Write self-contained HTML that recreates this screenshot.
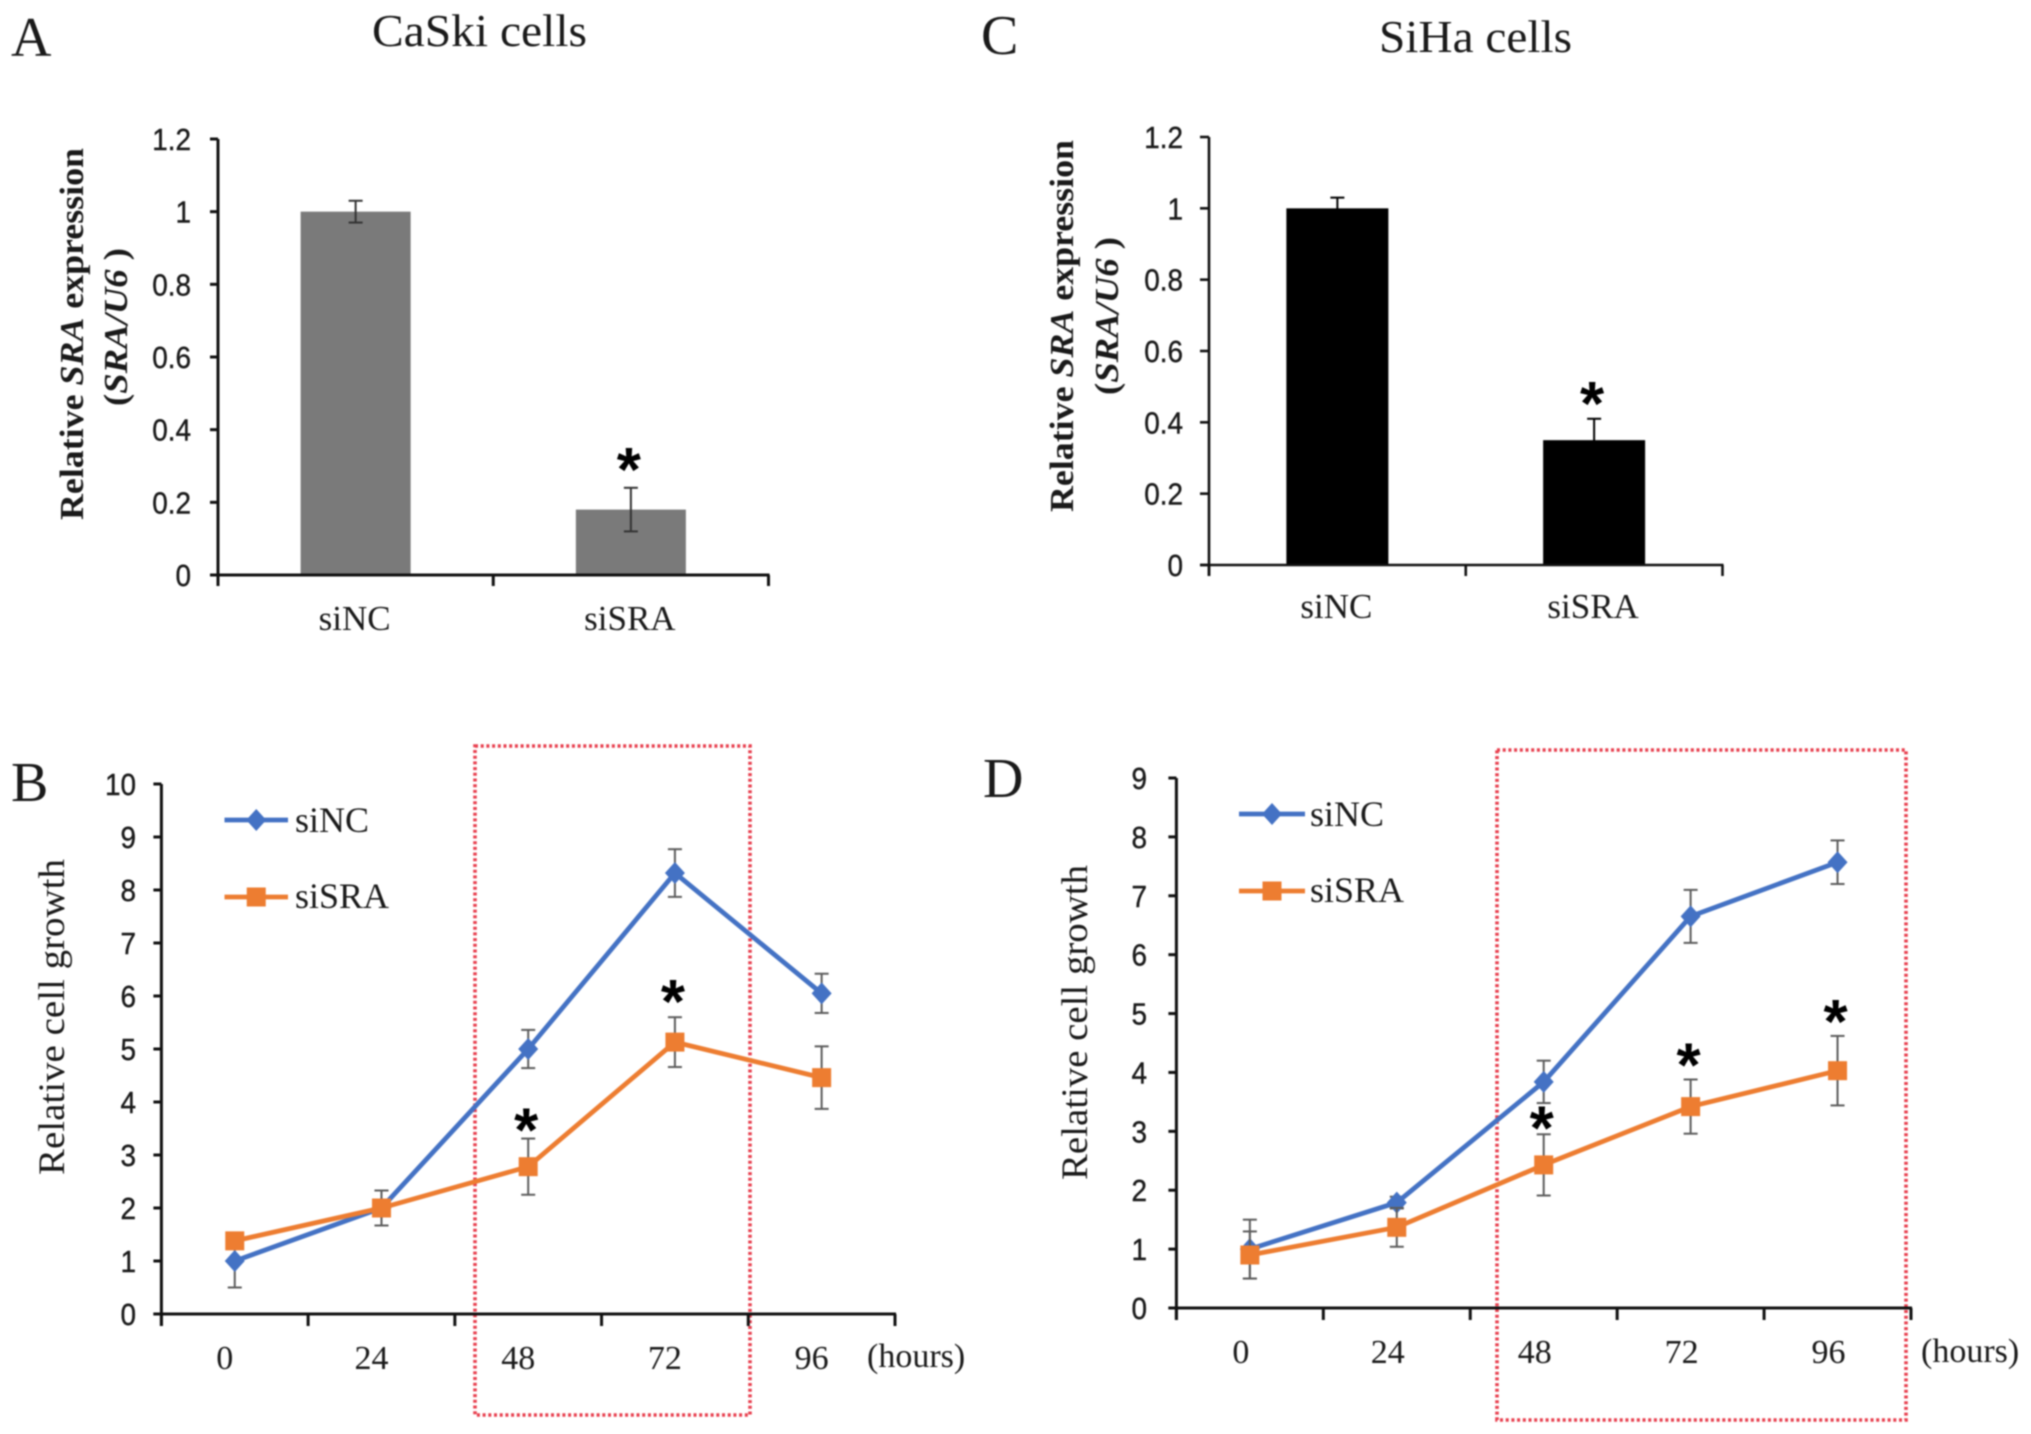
<!DOCTYPE html>
<html lang="en">
<head>
<meta charset="utf-8">
<title>SRA knockdown in CaSki and SiHa cells</title>
<style>
html,body{margin:0;padding:0;background:#fff;width:2031px;height:1434px;overflow:hidden}
svg{display:block;filter:blur(0.7px)}
text{fill:#1a1a1a}
.sans{font-family:"Liberation Sans",sans-serif}
.serif{font-family:"Liberation Serif",serif}
</style>
</head>
<body>
<svg id="figure" xmlns="http://www.w3.org/2000/svg" width="2031" height="1434" viewBox="0 0 2031 1434">
  <rect x="0" y="0" width="2031" height="1434" fill="#fff"/>

  <text class="serif" x="11" y="56" font-size="56">A</text>
  <text class="serif" x="981" y="54" font-size="56">C</text>
  <text class="serif" x="11" y="801" font-size="56">B</text>
  <text class="serif" x="983" y="797" font-size="56">D</text>

  <text class="serif" x="372" y="46" font-size="46" textLength="215" lengthAdjust="spacingAndGlyphs">CaSki cells</text>
  <text class="serif" x="1379" y="52" font-size="46" textLength="193" lengthAdjust="spacingAndGlyphs">SiHa cells</text>

  <g class="serif" font-weight="bold" font-size="34">
    <text transform="translate(83,520) rotate(-90)" textLength="372" lengthAdjust="spacingAndGlyphs">Relative <tspan font-style="italic">SRA</tspan> expression</text>
    <text transform="translate(127,406) rotate(-90)" textLength="158" lengthAdjust="spacingAndGlyphs">(<tspan font-style="italic">SRA/U6</tspan> )</text>
  </g>
  <g class="serif" font-weight="bold" font-size="34">
    <text transform="translate(1073,512) rotate(-90)" textLength="372" lengthAdjust="spacingAndGlyphs">Relative <tspan font-style="italic">SRA</tspan> expression</text>
    <text transform="translate(1118,395) rotate(-90)" textLength="158" lengthAdjust="spacingAndGlyphs">(<tspan font-style="italic">SRA/U6</tspan> )</text>
  </g>
  <text class="serif" font-size="37" transform="translate(64,1175) rotate(-90)" textLength="316" lengthAdjust="spacingAndGlyphs">Relative cell growth</text>
  <text class="serif" font-size="37" transform="translate(1087,1180) rotate(-90)" textLength="315" lengthAdjust="spacingAndGlyphs">Relative cell growth</text>

  <text class="serif" x="867" y="1367" font-size="34">(hours)</text>
  <text class="serif" x="1921" y="1362" font-size="34">(hours)</text>

  <rect x="475" y="746" width="275" height="669" fill="none" stroke="#e8404f" stroke-width="3.6" stroke-dasharray="3 2.7"/>
  <rect x="1497" y="750" width="409" height="670" fill="none" stroke="#e8404f" stroke-width="3.6" stroke-dasharray="3 2.7"/>
</svg>

<script>
// Panel A: CaSki knockdown
const caskiBarCategories = ["siNC", "siSRA"];
const caskiBarValues = [1, 0.18];
const caskiBarErrors = [0.03, 0.06];
const caskiBarStars = [1];
// Panel C: SiHa knockdown
const sihaBarCategories = ["siNC", "siSRA"];
const sihaBarValues = [1, 0.35];
const sihaBarErrors = [0.03, 0.06];
const sihaBarStars = [1];
const barTickValues = [0, 0.2, 0.4, 0.6, 0.8, 1, 1.2];
const barTickLabels = ["0", "0.2", "0.4", "0.6", "0.8", "1", "1.2"];

// Panels B and D: time course
const hourCategories = ["0", "24", "48", "72", "96"];
const caskiNcValues = [1, 2, 5, 8.32, 6.05];
const caskiNcErrors = [0.5, 0.33, 0.36, 0.45, 0.37];
const caskiSraValues = [1.38, 2, 2.78, 5.13, 4.46];
const caskiSraErrors = [0.1, 0.33, 0.53, 0.47, 0.59];
const caskiGrowthStars = [2, 3];
const caskiTickValues = [0, 1, 2, 3, 4, 5, 6, 7, 8, 9, 10];
const caskiTickLabels = ["0", "1", "2", "3", "4", "5", "6", "7", "8", "9", "10"];

const sihaNcValues = [1, 1.79, 3.84, 6.65, 7.57];
const sihaNcErrors = [0.5, 0.1, 0.36, 0.45, 0.37];
const sihaSraValues = [0.9, 1.37, 2.43, 3.42, 4.03];
const sihaSraErrors = [0.4, 0.33, 0.52, 0.46, 0.59];
const sihaGrowthStars = [2, 3, 4];
const sihaTickValues = [0, 1, 2, 3, 4, 5, 6, 7, 8, 9];
const sihaTickLabels = ["0", "1", "2", "3", "4", "5", "6", "7", "8", "9"];

const svg = document.getElementById('figure');
const NS = 'http://www.w3.org/2000/svg';

function make(tag, attrs, parent) {
  const el = document.createElementNS(NS, tag);
  for (const k in attrs) el.setAttribute(k, attrs[k]);
  (parent || svg).appendChild(el);
  return el;
}

function drawAxes(g, p, count, tickValues, tickLabels, yScale, axisWidth) {
  const yAxis = make('line', {x1: p.left, x2: p.left, y1: p.top, y2: p.bottom + p.tickDown, stroke: '#111', 'stroke-width': axisWidth}, g);
  
  
  const xAxis = make('line', {x1: p.left - p.tickLeft, x2: p.right + 1, y1: p.bottom, y2: p.bottom, stroke: '#111', 'stroke-width': axisWidth}, g);
  
  
  tickValues.forEach(function (v, i) {
    const y = yScale(v);
    const t = make('line', {x1: p.left - p.tickLeft, x2: p.left, y1: y, y2: y, stroke: '#111', 'stroke-width': axisWidth}, g);
    
    
    const lab = make('text', {transform: 'translate(' + p.labelRight + ',' + (y + 11) + ') scale(0.9,1)', 'text-anchor': 'end', 'font-size': p.tickFont, 'class': 'sans', stroke: '#1a1a1a', 'stroke-width': 0.4}, g);
    
    
    lab.textContent = tickLabels[i];
  });
  for (let i = 0; i <= count; i++) {
    const x = p.left + (p.right - p.left) * i / count;
    const t = make('line', {x1: x, x2: x, y1: p.bottom, y2: p.bottom + p.tickDown, stroke: '#111', 'stroke-width': axisWidth}, g);
    
    
  }
}

function drawError(g, x, yTop, yBottom, color) {
  const stem = make('line', {x1: x, x2: x, y1: yTop, y2: yBottom, stroke: color, 'stroke-width': 2}, g);
  
  
  [yTop, yBottom].forEach(function (y) {
    const cap = make('line', {x1: x - 7, x2: x + 7, y1: y, y2: y, stroke: color, 'stroke-width': 2}, g);
    
    
  });
}

function drawStar(g, x, cy) {
  const s = make('text', {x: x, y: cy + 35, 'text-anchor': 'middle', 'font-size': 62, 'font-weight': 'bold', 'class': 'sans', style: 'fill:#000'}, g);
  
  
  s.textContent = '*';
}

function drawBarPanel(name, p, categories, values, errors, stars, color, errColor) {
  const g = make('g', {});
  
  
  const yScale = function (v) { return p.bottom - (v / p.max) * (p.bottom - p.top); };
  const xScale = function (i) { return p.left + (p.right - p.left) * (i + 0.5) / categories.length; };
  categories.forEach(function (c, i) {
    const y = yScale(values[i]);
    const bar = make('rect', {x: xScale(i) - p.barWidth / 2, y: y, width: p.barWidth, height: p.bottom - y, fill: color}, g);
    
    
    drawError(g, xScale(i), yScale(values[i] + errors[i]), yScale(values[i] - errors[i]), errColor);
    const lab = make('text', {x: xScale(i) - 1, y: p.labelY, 'text-anchor': 'middle', 'font-size': 35, 'class': 'serif'}, g);
    
    
    lab.textContent = c;
  });
  drawAxes(g, p, categories.length, barTickValues, barTickLabels, yScale, p.axisWidth);
  stars.forEach(function (i) {
    drawStar(g, xScale(i) - 2, yScale(values[i] + errors[i]) - p.starGap);
  });
}

function drawSeries(g, seriesName, values, errors, xScale, yScale, color, marker) {
  values.forEach(function (v, i) {
    drawError(g, xScale(i), yScale(v + errors[i]), yScale(v - errors[i]), '#5c5c5c');
  });
  const pts = values.map(function (v, i) { return xScale(i) + ',' + yScale(v); }).join(' ');
  const line = make('polyline', {points: pts, fill: 'none', stroke: color, 'stroke-width': 4.8, 'stroke-linejoin': 'round'}, g);
  
  
  values.forEach(function (v, i) {
    const m = drawMarker(g, xScale(i), yScale(v), color, marker);
    
    
  });
}

function drawMarker(g, x, y, color, marker) {
  if (marker === 'diamond') {
    return make('polygon', {points: (x - 10) + ',' + y + ' ' + x + ',' + (y - 11) + ' ' + (x + 10) + ',' + y + ' ' + x + ',' + (y + 11), fill: color}, g);
  }
  return make('rect', {x: x - 9.5, y: y - 9.5, width: 19, height: 19, fill: color}, g);
}

function drawLegendEntry(g, p, y, textY, label, color, marker) {
  const entry = make('g', {}, g);
  
  
  make('line', {x1: p.legendX1, x2: p.legendX2, y1: y, y2: y, stroke: color, 'stroke-width': 4.8}, entry);
  drawMarker(entry, (p.legendX1 + p.legendX2) / 2, y, color, marker);
  const t = make('text', {x: p.legendTextX, y: textY, 'font-size': 36, 'class': 'serif'}, entry);
  t.textContent = label;
}

function drawGrowthPanel(name, p, categories, ncValues, ncErrors, sraValues, sraErrors, stars, tickValues, tickLabels) {
  const g = make('g', {});
  
  
  const yScale = function (v) { return p.bottom - (v / p.max) * (p.bottom - p.top); };
  const xScale = function (i) { return p.left + (p.right - p.left) * (i + 0.5) / categories.length; };
  drawAxes(g, p, categories.length, tickValues, tickLabels, yScale, 3);
  categories.forEach(function (c, i) {
    const lab = make('text', {x: xScale(i) + p.labelShift, y: p.labelY, 'text-anchor': 'middle', 'font-size': 34, 'class': 'serif'}, g);
    
    
    lab.textContent = c;
  });
  drawSeries(g, 'sinc', ncValues, ncErrors, xScale, yScale, '#4472c4', 'diamond');
  drawSeries(g, 'sisra', sraValues, sraErrors, xScale, yScale, '#ed7d31', 'square');
  stars.forEach(function (i) {
    drawStar(g, xScale(i) - 2, yScale(sraValues[i] + sraErrors[i]) - p.starGap[i]);
  });
  drawLegendEntry(g, p, p.legendY1, p.legendY1 + 12, 'siNC', '#4472c4', 'diamond');
  drawLegendEntry(g, p, p.legendY2, p.legendY2 + 11, 'siSRA', '#ed7d31', 'square');
}

drawBarPanel('bar-chart-caski', {left: 218, right: 768.5, top: 139, bottom: 575, max: 1.2, barWidth: 110, tickLeft: 8, tickDown: 11, labelRight: 191, tickFont: 31, labelY: 630, axisWidth: 3, starGap: 32},
  caskiBarCategories, caskiBarValues, caskiBarErrors, caskiBarStars, '#7a7a7a', '#333');
drawBarPanel('bar-chart-siha', {left: 1209, right: 1722.5, top: 137, bottom: 565, max: 1.2, barWidth: 102, tickLeft: 9, tickDown: 11, labelRight: 1183, tickFont: 31, labelY: 618, axisWidth: 2.6, starGap: 29},
  sihaBarCategories, sihaBarValues, sihaBarErrors, sihaBarStars, '#000', '#000');
drawGrowthPanel('line-chart-caski', {left: 161.4, right: 895, top: 784, bottom: 1314, max: 10, tickLeft: 8, tickDown: 12, labelRight: 136, tickFont: 31, labelY: 1369, labelShift: -10, legendX1: 224.5, legendX2: 288, legendTextX: 295, legendY1: 820, legendY2: 897, starGap: {2: 22, 3: 29}},
  hourCategories, caskiNcValues, caskiNcErrors, caskiSraValues, caskiSraErrors, caskiGrowthStars, caskiTickValues, caskiTickLabels);
drawGrowthPanel('line-chart-siha', {left: 1176.4, right: 1911, top: 778, bottom: 1308, max: 9, tickLeft: 8, tickDown: 12, labelRight: 1147, tickFont: 31, labelY: 1363, labelShift: -9, legendX1: 1239, legendX2: 1305, legendTextX: 1310, legendY1: 814, legendY2: 891, starGap: {2: 20, 3: 28, 4: 28}},
  hourCategories, sihaNcValues, sihaNcErrors, sihaSraValues, sihaSraErrors, sihaGrowthStars, sihaTickValues, sihaTickLabels);
</script>
</body>
</html>
